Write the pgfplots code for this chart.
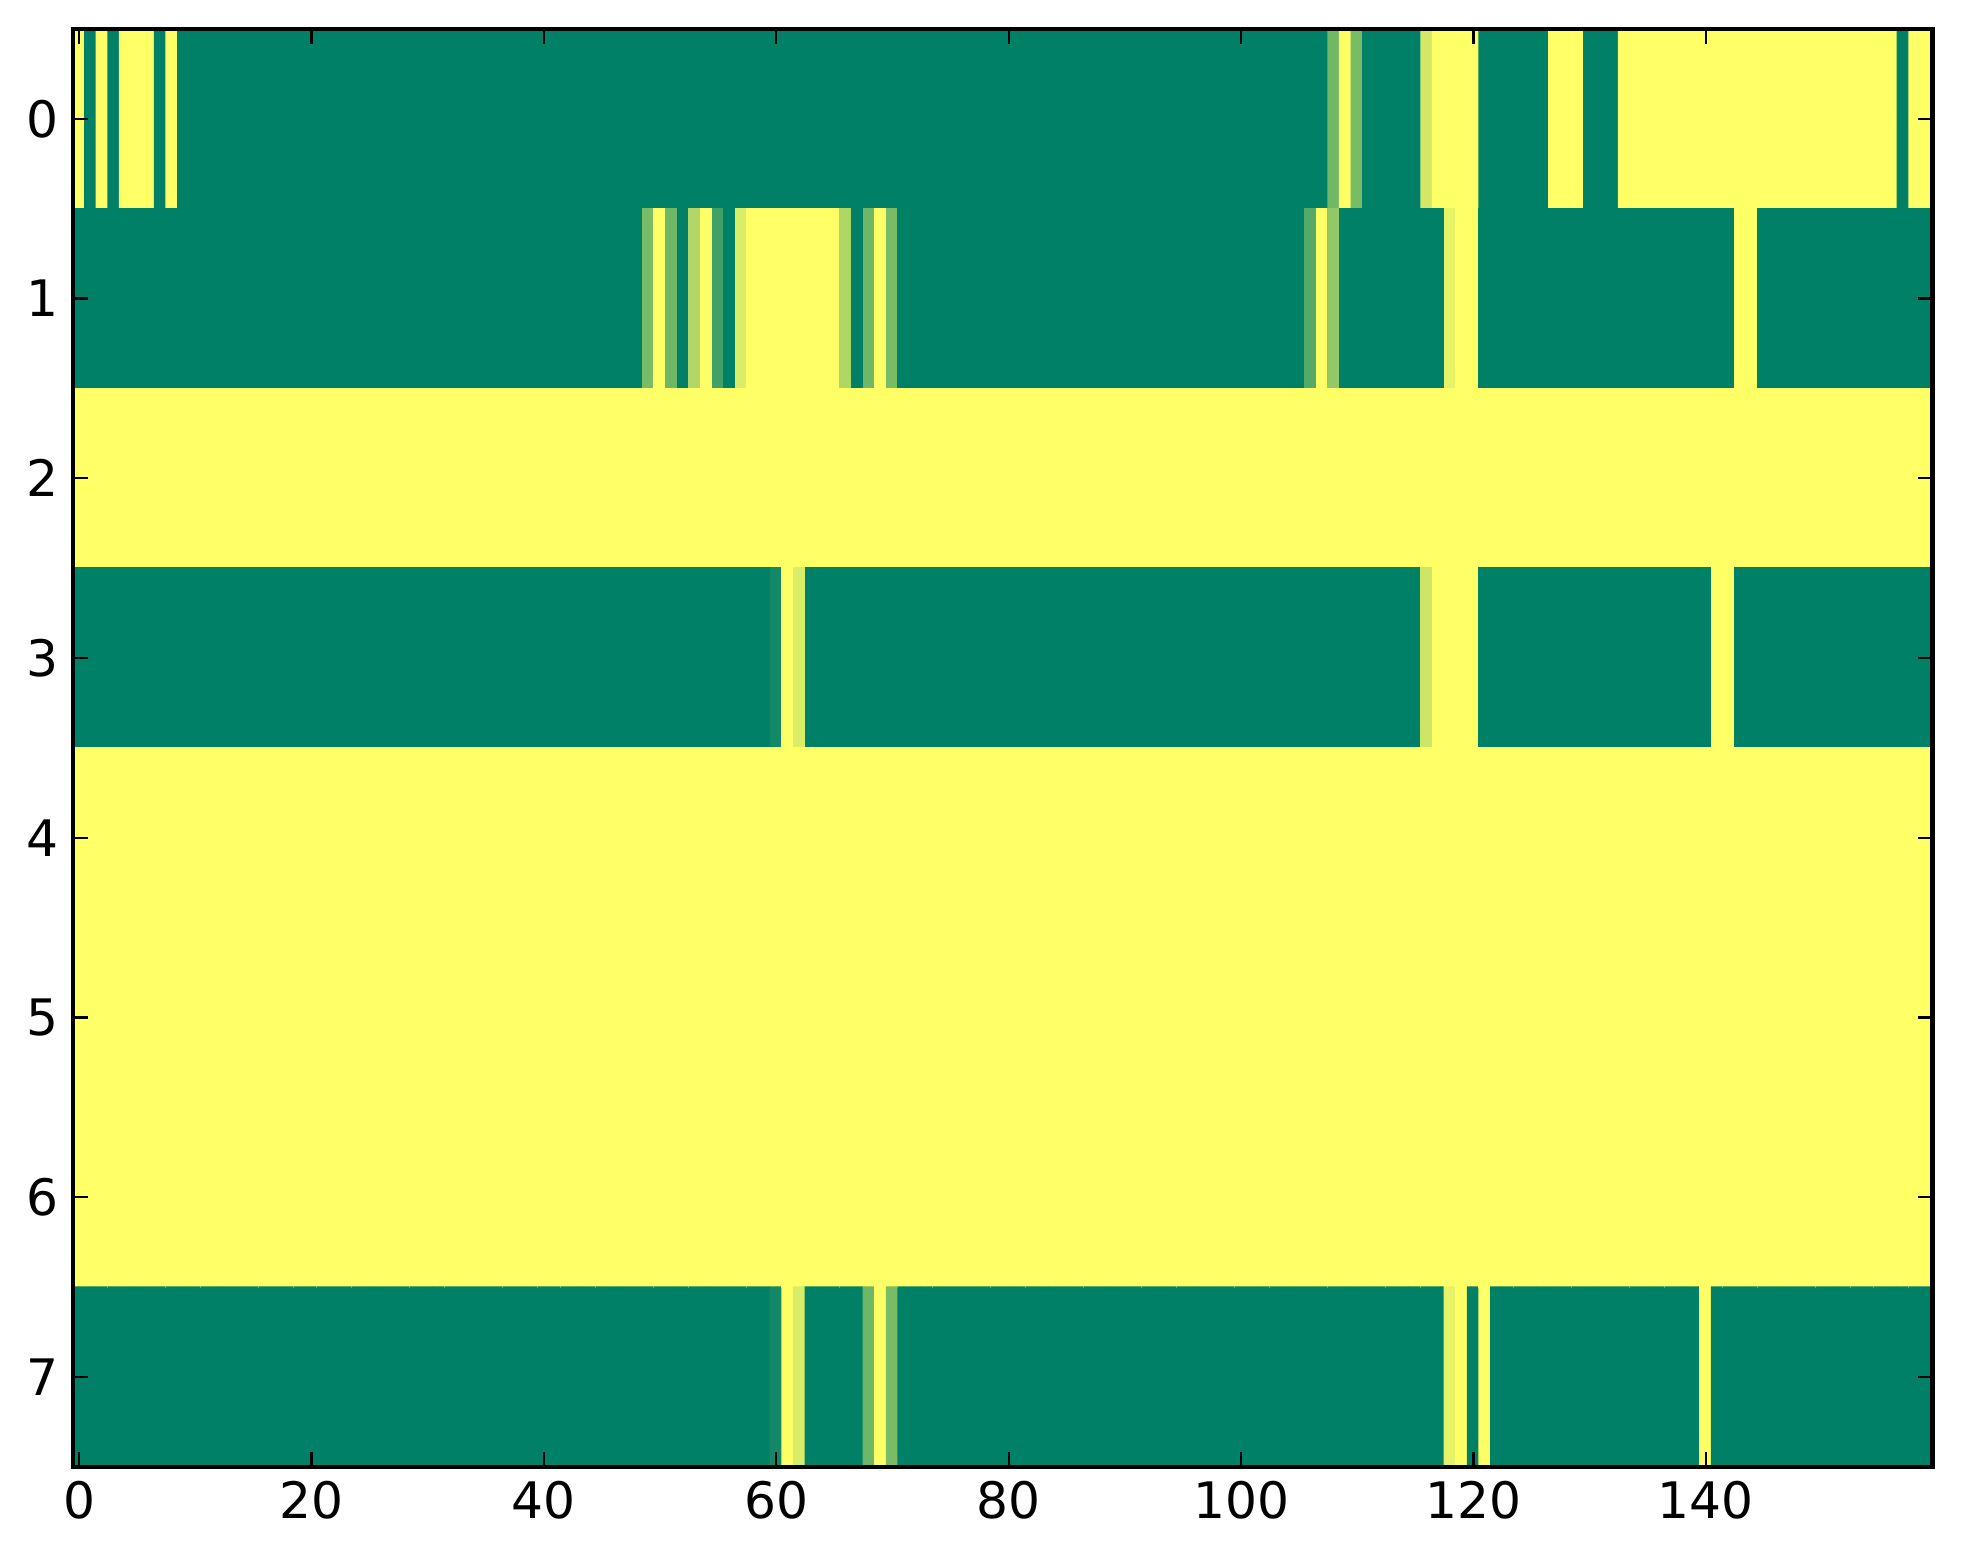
\documentclass[border=0pt]{standalone}
\usepackage{pgfplots}
\pgfplotsset{compat=1.18}
\usepackage{fontspec}
\setmainfont{DejaVu Sans}
\begin{document}
\begin{tikzpicture}
\begin{axis}[
  scale only axis,
  width=443.7pt, height=343.2pt,
  xmin=-0.5, xmax=159.5, ymin=-0.5, ymax=7.5,
  y dir=reverse,
  axis on top,
  xtick={0,20,...,140},
  ytick={0,1,...,7},
  colormap={summer}{rgb=(0,0.5,0.4) rgb=(1,1,0.4)},
  point meta min=0, point meta max=1,
  axis line style={line width=1pt},
  every tick/.style={black, line width=0.5pt},
  major tick length=3.5pt,
  tick align=inside,
  tick label style={font=\fontsize{12}{14}\selectfont},
  /pgf/number format/assume math mode=true,
]
\addplot[matrix plot*, mesh/cols=160, mesh/rows=8, point meta=\thisrow{v}]
 table[row sep=\\, x expr={mod(\coordindex,160)}, y expr={floor(\coordindex/160)}] {
v\\
1\\0\\1\\0\\1\\1\\1\\0\\1\\0\\ 0\\0\\0\\0\\0\\0\\0\\0\\0\\0\\ 0\\0\\0\\0\\0\\0\\0\\0\\0\\0\\ 0\\0\\0\\0\\0\\0\\0\\0\\0\\0\\
0\\0\\0\\0\\0\\0\\0\\0\\0\\0\\ 0\\0\\0\\0\\0\\0\\0\\0\\0\\0\\ 0\\0\\0\\0\\0\\0\\0\\0\\0\\0\\ 0\\0\\0\\0\\0\\0\\0\\0\\0\\0\\
0\\0\\0\\0\\0\\0\\0\\0\\0\\0\\ 0\\0\\0\\0\\0\\0\\0\\0\\0\\0\\ 0\\0\\0\\0\\0\\0\\0\\0\\0.44\\1\\ 0.47\\0\\0\\0\\0\\0\\0.82\\1\\1\\1\\
1\\0\\0\\0\\0\\0\\0\\1\\1\\1\\ 0\\0\\0\\1\\1\\1\\1\\1\\1\\1\\ 1\\1\\1\\1\\1\\1\\1\\1\\1\\1\\ 1\\1\\1\\1\\1\\1\\1\\0\\1\\1\\
0\\0\\0\\0\\0\\0\\0\\0\\0\\0\\ 0\\0\\0\\0\\0\\0\\0\\0\\0\\0\\ 0\\0\\0\\0\\0\\0\\0\\0\\0\\0\\ 0\\0\\0\\0\\0\\0\\0\\0\\0\\0\\
0\\0\\0\\0\\0\\0\\0\\0\\0\\0.47\\ 1\\0.43\\0\\0.69\\1\\0.25\\0\\0.85\\1\\1\\ 1\\1\\1\\1\\1\\1\\0.68\\0\\0.43\\1\\ 0.47\\0\\0\\0\\0\\0\\0\\0\\0\\0\\
0\\0\\0\\0\\0\\0\\0\\0\\0\\0\\ 0\\0\\0\\0\\0\\0\\0\\0\\0\\0\\ 0\\0\\0\\0\\0\\0\\0.33\\1\\0.57\\0\\ 0\\0\\0\\0\\0\\0\\0\\0\\0.9\\1\\
1\\0\\0\\0\\0\\0\\0\\0\\0\\0\\ 0\\0\\0\\0\\0\\0\\0\\0\\0\\0\\ 0\\0\\0\\1\\1\\0\\0\\0\\0\\0\\ 0\\0\\0\\0\\0\\0\\0\\0\\0\\0\\
1\\1\\1\\1\\1\\1\\1\\1\\1\\1\\ 1\\1\\1\\1\\1\\1\\1\\1\\1\\1\\ 1\\1\\1\\1\\1\\1\\1\\1\\1\\1\\ 1\\1\\1\\1\\1\\1\\1\\1\\1\\1\\
1\\1\\1\\1\\1\\1\\1\\1\\1\\1\\ 1\\1\\1\\1\\1\\1\\1\\1\\1\\1\\ 1\\1\\1\\1\\1\\1\\1\\1\\1\\1\\ 1\\1\\1\\1\\1\\1\\1\\1\\1\\1\\
1\\1\\1\\1\\1\\1\\1\\1\\1\\1\\ 1\\1\\1\\1\\1\\1\\1\\1\\1\\1\\ 1\\1\\1\\1\\1\\1\\1\\1\\1\\1\\ 1\\1\\1\\1\\1\\1\\1\\1\\1\\1\\
1\\1\\1\\1\\1\\1\\1\\1\\1\\1\\ 1\\1\\1\\1\\1\\1\\1\\1\\1\\1\\ 1\\1\\1\\1\\1\\1\\1\\1\\1\\1\\ 1\\1\\1\\1\\1\\1\\1\\1\\1\\1\\
0\\0\\0\\0\\0\\0\\0\\0\\0\\0\\ 0\\0\\0\\0\\0\\0\\0\\0\\0\\0\\ 0\\0\\0\\0\\0\\0\\0\\0\\0\\0\\ 0\\0\\0\\0\\0\\0\\0\\0\\0\\0\\
0\\0\\0\\0\\0\\0\\0\\0\\0\\0\\ 0\\0\\0\\0\\0\\0\\0\\0\\0\\0\\ 0.07\\1\\0.85\\0\\0\\0\\0\\0\\0\\0\\ 0\\0\\0\\0\\0\\0\\0\\0\\0\\0\\
0\\0\\0\\0\\0\\0\\0\\0\\0\\0\\ 0\\0\\0\\0\\0\\0\\0\\0\\0\\0\\ 0\\0\\0\\0\\0\\0\\0\\0\\0\\0\\ 0\\0\\0\\0\\0\\0\\0.8\\1\\1\\1\\
1\\0\\0\\0\\0\\0\\0\\0\\0\\0\\ 0\\0\\0\\0\\0\\0\\0\\0\\0\\0\\ 0\\1\\1\\0\\0\\0\\0\\0\\0\\0\\ 0\\0\\0\\0\\0\\0\\0\\0\\0\\0\\
1\\1\\1\\1\\1\\1\\1\\1\\1\\1\\ 1\\1\\1\\1\\1\\1\\1\\1\\1\\1\\ 1\\1\\1\\1\\1\\1\\1\\1\\1\\1\\ 1\\1\\1\\1\\1\\1\\1\\1\\1\\1\\
1\\1\\1\\1\\1\\1\\1\\1\\1\\1\\ 1\\1\\1\\1\\1\\1\\1\\1\\1\\1\\ 1\\1\\1\\1\\1\\1\\1\\1\\1\\1\\ 1\\1\\1\\1\\1\\1\\1\\1\\1\\1\\
1\\1\\1\\1\\1\\1\\1\\1\\1\\1\\ 1\\1\\1\\1\\1\\1\\1\\1\\1\\1\\ 1\\1\\1\\1\\1\\1\\1\\1\\1\\1\\ 1\\1\\1\\1\\1\\1\\1\\1\\1\\1\\
1\\1\\1\\1\\1\\1\\1\\1\\1\\1\\ 1\\1\\1\\1\\1\\1\\1\\1\\1\\1\\ 1\\1\\1\\1\\1\\1\\1\\1\\1\\1\\ 1\\1\\1\\1\\1\\1\\1\\1\\1\\1\\
1\\1\\1\\1\\1\\1\\1\\1\\1\\1\\ 1\\1\\1\\1\\1\\1\\1\\1\\1\\1\\ 1\\1\\1\\1\\1\\1\\1\\1\\1\\1\\ 1\\1\\1\\1\\1\\1\\1\\1\\1\\1\\
1\\1\\1\\1\\1\\1\\1\\1\\1\\1\\ 1\\1\\1\\1\\1\\1\\1\\1\\1\\1\\ 1\\1\\1\\1\\1\\1\\1\\1\\1\\1\\ 1\\1\\1\\1\\1\\1\\1\\1\\1\\1\\
1\\1\\1\\1\\1\\1\\1\\1\\1\\1\\ 1\\1\\1\\1\\1\\1\\1\\1\\1\\1\\ 1\\1\\1\\1\\1\\1\\1\\1\\1\\1\\ 1\\1\\1\\1\\1\\1\\1\\1\\1\\1\\
1\\1\\1\\1\\1\\1\\1\\1\\1\\1\\ 1\\1\\1\\1\\1\\1\\1\\1\\1\\1\\ 1\\1\\1\\1\\1\\1\\1\\1\\1\\1\\ 1\\1\\1\\1\\1\\1\\1\\1\\1\\1\\
1\\1\\1\\1\\1\\1\\1\\1\\1\\1\\ 1\\1\\1\\1\\1\\1\\1\\1\\1\\1\\ 1\\1\\1\\1\\1\\1\\1\\1\\1\\1\\ 1\\1\\1\\1\\1\\1\\1\\1\\1\\1\\
1\\1\\1\\1\\1\\1\\1\\1\\1\\1\\ 1\\1\\1\\1\\1\\1\\1\\1\\1\\1\\ 1\\1\\1\\1\\1\\1\\1\\1\\1\\1\\ 1\\1\\1\\1\\1\\1\\1\\1\\1\\1\\
1\\1\\1\\1\\1\\1\\1\\1\\1\\1\\ 1\\1\\1\\1\\1\\1\\1\\1\\1\\1\\ 1\\1\\1\\1\\1\\1\\1\\1\\1\\1\\ 1\\1\\1\\1\\1\\1\\1\\1\\1\\1\\
1\\1\\1\\1\\1\\1\\1\\1\\1\\1\\ 1\\1\\1\\1\\1\\1\\1\\1\\1\\1\\ 1\\1\\1\\1\\1\\1\\1\\1\\1\\1\\ 1\\1\\1\\1\\1\\1\\1\\1\\1\\1\\
0\\0\\0\\0\\0\\0\\0\\0\\0\\0\\ 0\\0\\0\\0\\0\\0\\0\\0\\0\\0\\ 0\\0\\0\\0\\0\\0\\0\\0\\0\\0\\ 0\\0\\0\\0\\0\\0\\0\\0\\0\\0\\
0\\0\\0\\0\\0\\0\\0\\0\\0\\0\\ 0\\0\\0\\0\\0\\0\\0\\0\\0\\0\\ 0.07\\1\\0.85\\0\\0\\0\\0\\0\\0.43\\1\\ 0.47\\0\\0\\0\\0\\0\\0\\0\\0\\0\\
0\\0\\0\\0\\0\\0\\0\\0\\0\\0\\ 0\\0\\0\\0\\0\\0\\0\\0\\0\\0\\ 0\\0\\0\\0\\0\\0\\0\\0\\0\\0\\ 0\\0\\0\\0\\0\\0\\0\\0\\0.9\\1\\
0\\1\\0\\0\\0\\0\\0\\0\\0\\0\\ 0\\0\\0\\0\\0\\0\\0\\0\\0\\0\\ 1\\0\\0\\0\\0\\0\\0\\0\\0\\0\\ 0\\0\\0\\0\\0\\0\\0\\0\\0\\0\\
};
\end{axis}
\pgfresetboundingbox
\path[use as bounding box] ([shift={(-17.5pt,-23.2pt)}]current axis.south west) rectangle ([shift={(7.3pt,6.9pt)}]current axis.north east);
\end{tikzpicture}
\end{document}
